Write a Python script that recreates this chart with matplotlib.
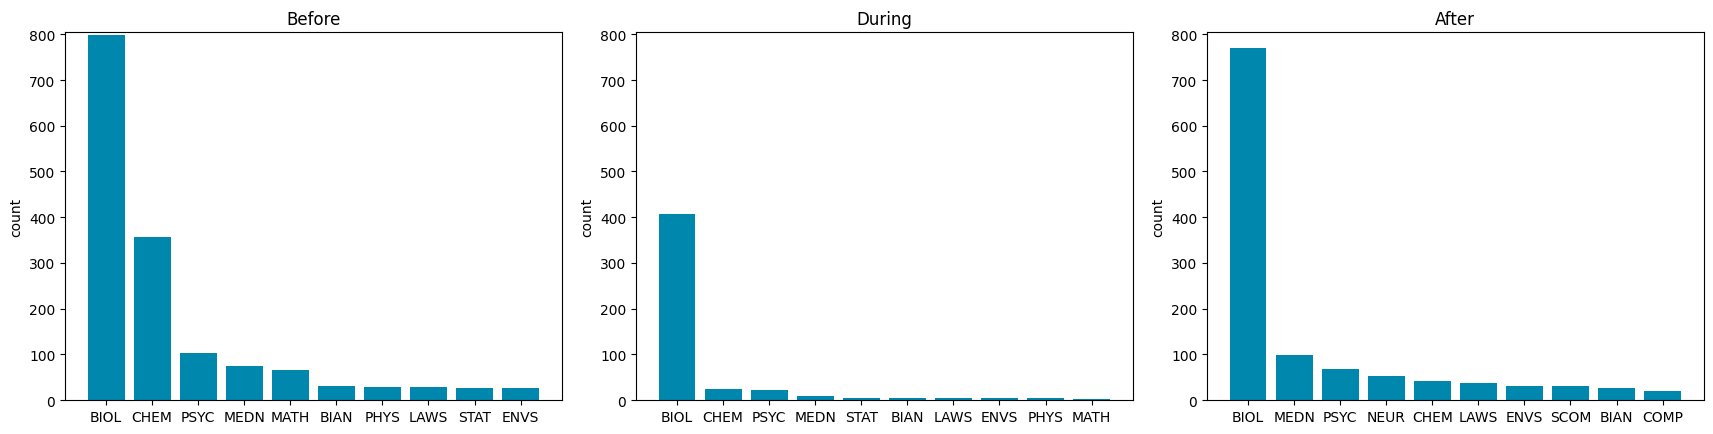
import numpy as np
import matplotlib
matplotlib.use("Agg")
import matplotlib.pyplot as plt

# counts per subject code
before_labels = ["BIOL", "CHEM", "PSYC", "MEDN", "MATH", "BIAN", "PHYS", "LAWS", "STAT", "ENVS"]
before_counts = [798, 357, 103, 75, 66, 31, 29, 29, 27, 26]

during_labels = ["BIOL", "CHEM", "PSYC", "MEDN", "STAT", "BIAN", "LAWS", "ENVS", "PHYS", "MATH"]
during_counts = [408, 25, 22, 9, 5, 4, 4, 4, 4, 2]

after_labels = ["BIOL", "MEDN", "PSYC", "NEUR", "CHEM", "LAWS", "ENVS", "SCOM", "BIAN", "COMP"]
after_counts = [771, 99, 69, 53, 42, 38, 31, 31, 27, 20]

titles = ["Before", "During", "After"]
bar_color = "#0087ae"

fig, axes = plt.subplots(1, 3, figsize=(17.13, 4.35))
fig.subplots_adjust(left=0.038, right=0.9945, top=0.924, bottom=0.078, wspace=0.15)

data = [(before_labels, before_counts), (during_labels, during_counts), (after_labels, after_counts)]
for ax, title, (labels, counts) in zip(axes, titles, data):
    ax.bar(labels, counts, color=bar_color)
    ax.set_title(title)
    ax.set_ylabel("count")
    ax.set_ylim(0, 805)

fig.savefig("out.png", dpi=100)
